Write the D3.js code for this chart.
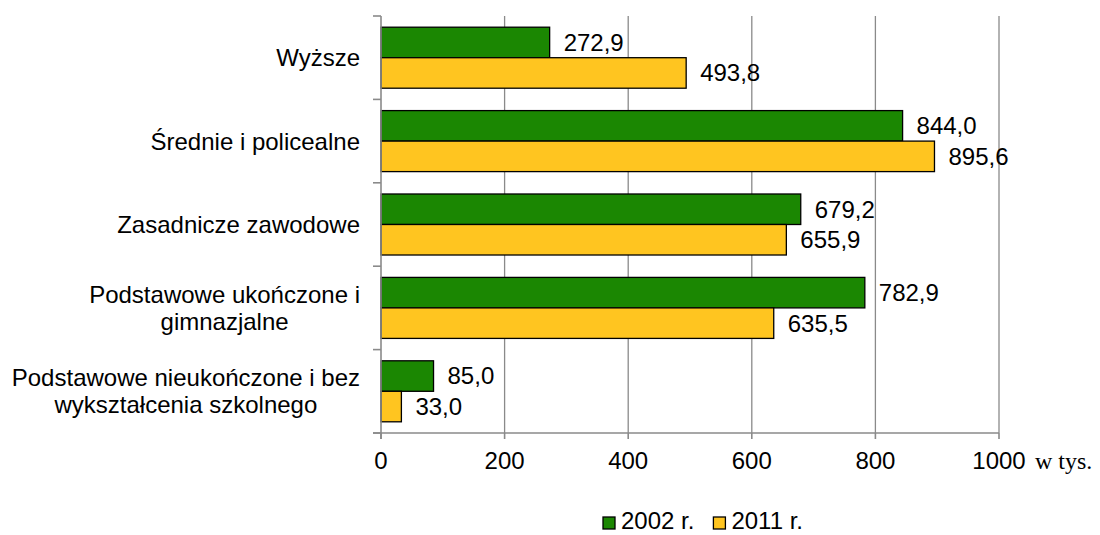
<!DOCTYPE html>
<html>
<head>
<meta charset="utf-8">
<script src="https://cdn.jsdelivr.net/npm/d3@7"></script>
<style>
  html, body { margin: 0; padding: 0; background: #fff; }
  svg { display: block; }
  text { font-family: "Liberation Sans", Arial, sans-serif; fill: #000; }
</style>
</head>
<body>
<svg id="chart" width="1100" height="535"></svg>
<script>
const categories = ["Wyższe", "Średnie i policealne", "Zasadnicze zawodowe", "Podstawowe ukończone i gimnazjalne", "Podstawowe nieukończone i bez wykształcenia szkolnego"];
const categoryLines = [["Wyższe"], ["Średnie i policealne"], ["Zasadnicze zawodowe"], ["Podstawowe ukończone i", "gimnazjalne"], ["Podstawowe nieukończone i bez", "wykształcenia szkolnego"]];
const seriesNames = ["2002 r.", "2011 r."];
const values2002 = [272.9, 844.0, 679.2, 782.9, 85.0];
const values2011 = [493.8, 895.6, 655.9, 635.5, 33.0];
const xTicks = [0, 200, 400, 600, 800, 1000];
const unitLabel = "w tys.";
const colors = ["#1b8702", "#ffc520"];

(function () {
const svg = d3.select("#chart");
const pL = 381, pR = 999, pT = 16, pB = 433;
const fs = 24;

const x = d3.scaleLinear().domain([0, 1000]).range([pL, pR]);
const y0 = d3.scaleBand().domain(categories).range([pT, pB]).padding(0);
const y1 = d3.scaleBand().domain(seriesNames).range([0, y0.bandwidth()]).paddingInner(0).paddingOuter(0.367);

const gridColor = "#8a8a8a";

// gridlines
svg.append("g").selectAll("line").data(xTicks.slice(1)).join("line")
  .attr("x1", d => x(d)).attr("x2", d => x(d))
  .attr("y1", pT).attr("y2", pB)
  .attr("stroke", gridColor).attr("stroke-width", 1.3);

// bars
const data = categories.map((c, i) => ({cat: c, vals: [values2002[i], values2011[i]]}));
const groups = svg.append("g").selectAll("g").data(data).join("g")
  .attr("transform", d => `translate(0,${y0(d.cat)})`);

groups.selectAll("rect").data(d => d.vals.map((v, j) => ({v, s: seriesNames[j], j}))).join("rect")
  .attr("x", x(0))
  .attr("y", d => y1(d.s))
  .attr("width", d => x(d.v) - x(0))
  .attr("height", y1.bandwidth())
  .attr("fill", d => colors[d.j])
  .attr("stroke", "#000").attr("stroke-width", 1.3);

const fmt = v => d3.format(".1f")(v).replace(".", ",");
groups.selectAll("text.val").data(d => d.vals.map((v, j) => ({v, s: seriesNames[j], j}))).join("text")
  .attr("class", "val")
  .attr("x", d => x(d.v) + 14)
  .attr("y", d => y1(d.s) + y1.bandwidth() / 2)
  .attr("dy", "0.35em")
  .attr("font-size", fs)
  .text(d => fmt(d.v));

// left axis line + ticks
const axisColor = "#8a8a8a";
svg.append("line").attr("x1", pL).attr("x2", pL).attr("y1", pT).attr("y2", pB + 6)
  .attr("stroke", axisColor).attr("stroke-width", 1.6);
const bounds = categories.map(c => y0(c)).concat([pB]);
svg.append("g").selectAll("line").data(bounds).join("line")
  .attr("x1", pL - 8).attr("x2", pL).attr("y1", d => d).attr("y2", d => d)
  .attr("stroke", axisColor).attr("stroke-width", 1.6);

// bottom axis line + ticks
svg.append("line").attr("x1", pL - 8).attr("x2", pR).attr("y1", pB).attr("y2", pB)
  .attr("stroke", axisColor).attr("stroke-width", 1.6);
svg.append("g").selectAll("line").data(xTicks).join("line")
  .attr("x1", d => x(d)).attr("x2", d => x(d)).attr("y1", pB).attr("y2", pB + 6)
  .attr("stroke", axisColor).attr("stroke-width", 1.6);

// tick labels
svg.append("g").selectAll("text").data(xTicks).join("text")
  .attr("x", d => x(d)).attr("y", 469)
  .attr("text-anchor", "middle")
  .attr("font-size", fs)
  .text(d => d);

svg.append("text").attr("x", 1035).attr("y", 469)
  .attr("font-size", 24)
  .style("font-family", "'Liberation Serif', 'Times New Roman', serif")
  .text(unitLabel);

// category labels: block right-aligned at 360, lines centred within block
const lineH = 27;
categoryLines.forEach((lines, i) => {
  const cy = y0(categories[i]) + y0.bandwidth() / 2;
  const g = svg.append("g");
  const texts = lines.map((l, k) => g.append("text")
    .attr("font-size", fs)
    .attr("text-anchor", "middle")
    .attr("y", cy + (k - (lines.length - 1) / 2) * lineH)
    .attr("dy", "0.35em")
    .text(l));
  const w = Math.max(...texts.map(t => t.node().getComputedTextLength()));
  texts.forEach(t => t.attr("x", 360 - w / 2));
});

// legend
const legend = svg.append("g");
let lx = 603;
seriesNames.forEach((s, j) => {
  legend.append("rect").attr("x", lx).attr("y", 517).attr("width", 12).attr("height", 12)
    .attr("fill", colors[j]).attr("stroke", "#000").attr("stroke-width", 1.3);
  const t = legend.append("text").attr("x", lx + 18).attr("y", 529).attr("font-size", fs).text(s);
  lx += 18 + t.node().getComputedTextLength() + 19;
});
})();
</script>
</body>
</html>
